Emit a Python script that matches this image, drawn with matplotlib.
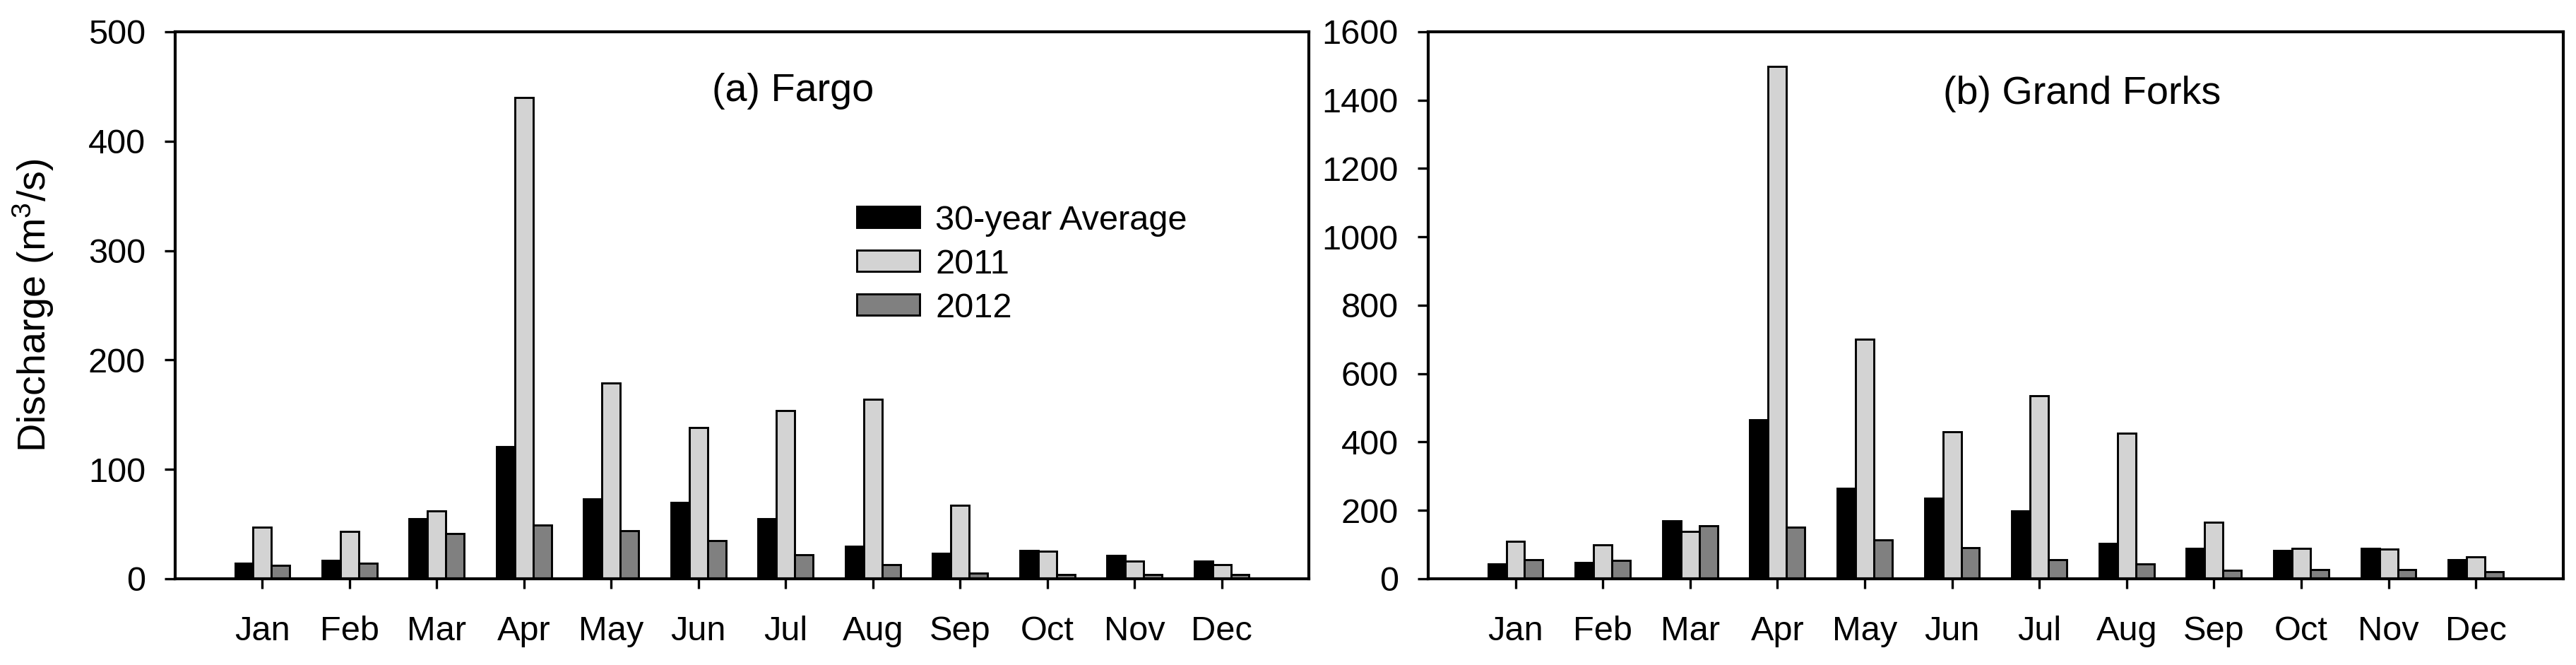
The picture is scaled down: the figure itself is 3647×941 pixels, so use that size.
"""
Monthly discharge: Fargo and Grand Forks, 30-year average vs 2011 vs 2012
"""

import numpy as np
import matplotlib.pyplot as plt

# ============================================================
# data (m3/s)
# ============================================================

months = ['Jan', 'Feb', 'Mar', 'Apr', 'May', 'Jun',
          'Jul', 'Aug', 'Sep', 'Oct', 'Nov', 'Dec']
series_names = ['30-year Average', '2011', '2012']

fargo_avg  = [14, 17, 55, 121, 73, 70, 55, 30, 23, 26, 21, 16]
fargo_2011 = [47, 43, 62, 440, 179, 138, 154, 164, 67, 25, 16, 13]
fargo_2012 = [12, 14, 41, 49, 44, 35, 22, 13, 5, 4, 4, 4]

gf_avg  = [43, 47, 170, 466, 265, 236, 198, 103, 89, 83, 88, 56]
gf_2011 = [109, 99, 138, 1499, 701, 429, 535, 426, 165, 88, 86, 63]
gf_2012 = [56, 53, 155, 150, 114, 91, 56, 43, 24, 26, 27, 20]

colors = ['black', '#d3d3d3', '#808080']

# ============================================================
# style
# ============================================================

plt.rcParams['font.family'] = ['Liberation Sans', 'DejaVu Sans']
plt.rcParams['mathtext.fontset'] = 'custom'
plt.rcParams['mathtext.rm'] = 'Liberation Sans'
plt.rcParams['mathtext.it'] = 'Liberation Sans:italic'
plt.rcParams['axes.linewidth'] = 1.0

TICK_FS  = 11.7
TITLE_FS = 13.4

fig = plt.figure(figsize=(3647 / 300, 941 / 300), dpi=300)
ax_a = fig.add_axes([0.0680, 0.1297, 0.4401, 0.8225])
ax_b = fig.add_axes([0.5544, 0.1297, 0.4406, 0.8225])

x = np.arange(1, len(months) + 1)
w = 0.21


def draw_panel(ax, values, ymax, ystep, title, title_x, title_y):
    for k, (vals, c, name) in enumerate(zip(values, colors, series_names)):
        ax.bar(x + (k - 1) * w, vals, width=w, color=c,
               edgecolor='black', linewidth=0.7, label=name)
    ax.set_xlim(0, 13)
    ax.set_ylim(0, ymax)
    ax.set_xticks(x)
    ax.set_xticklabels(months)
    ax.set_yticks(np.arange(0, ymax + 1, ystep))
    ax.tick_params(axis='x', direction='out', length=3.4, width=0.8,
                   pad=9.0, labelsize=TICK_FS)
    ax.tick_params(axis='y', direction='out', length=3.6, width=0.8,
                   pad=6.5, labelsize=TICK_FS)
    ax.text(title_x, title_y, title, transform=ax.transAxes,
            ha='center', va='baseline', fontsize=TITLE_FS)


draw_panel(ax_a, [fargo_avg, fargo_2011, fargo_2012], 500, 100,
           '(a) Fargo', 0.545, 0.873)
draw_panel(ax_b, [gf_avg, gf_2011, gf_2012], 1600, 200,
           '(b) Grand Forks', 0.576, 0.868)

ax_a.set_ylabel('Discharge (m$^3$/s)', fontsize=TITLE_FS)
ax_a.yaxis.set_label_coords(-0.105, 0.5)

ax_a.legend(loc='upper left', bbox_to_anchor=(0.601, 0.684),
            frameon=False, fontsize=TICK_FS, borderpad=0, borderaxespad=0,
            handlelength=1.84, handleheight=0.57, handletextpad=0.45,
            labelspacing=0.35)

plt.savefig('out.png', dpi=300)
